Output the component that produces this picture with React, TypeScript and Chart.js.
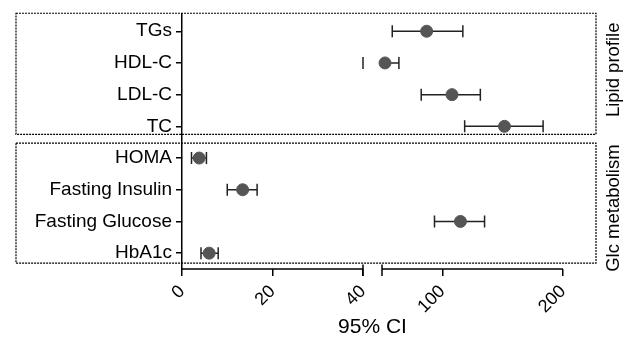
import React, { useEffect, useRef } from 'react';
import { Chart, registerables } from 'chart.js';
Chart.register(...registerables);

const categories = ['TGs', 'HDL-C', 'LDL-C', 'TC', 'HOMA', 'Fasting Insulin', 'Fasting Glucose', 'HbA1c'];
const groupNames = ['Lipid profile', 'Glc metabolism'];
const groupFirst = [0, 4];
const groupLast = [3, 7];
const estimates = [87, 52.5, 108, 151.5, 3.8, 13.4, 115, 6.0];
const lowerCI = [58.5, 40, 82.5, 118.5, 2.1, 10.0, 93.5, 4.2];
const upperCI = [117, 64, 131.5, 183.5, 5.4, 16.6, 135, 8.0];
const xTickValues = [0, 20, 40, 100, 200];
const xTitle = '95% CI';
const breakStart = 40;
const breakEnd = 50;
const axisMax = 200;

const FONT = 'Arial, "Liberation Sans", Helvetica, sans-serif';
const GAP = 4.2;
const RIGHT_LEN = 40;
function tx(v: number): number {
  if (v <= breakStart) return v;
  if (v >= breakEnd) return breakStart + GAP + ((v - breakEnd) * RIGHT_LEN) / (axisMax - breakEnd);
  return breakStart + ((v - breakStart) / (breakEnd - breakStart)) * GAP;
}

const whiskerColor = '#222222';
const pointColor = '#555555';

const decorPlugin = {
  id: 'decor',
  afterDraw(chart: any) {
    const { ctx, chartArea, scales } = chart;
    const x = scales.x;
    const y = scales.y;
    ctx.save();
    // broken x axis
    const ay = chartArea.bottom;
    ctx.strokeStyle = '#000';
    ctx.lineWidth = 1.5;
    ctx.beginPath();
    ctx.moveTo(x.getPixelForValue(tx(0)), ay);
    ctx.lineTo(x.getPixelForValue(tx(breakStart)), ay);
    ctx.moveTo(x.getPixelForValue(tx(breakEnd)), ay);
    ctx.lineTo(x.getPixelForValue(tx(axisMax)), ay);
    ctx.stroke();
    ctx.beginPath();
    [breakStart, breakEnd].forEach((b) => {
      const px = x.getPixelForValue(tx(b));
      ctx.moveTo(px, ay - 4.5);
      ctx.lineTo(px, ay + 7);
    });
    ctx.stroke();
    // group boxes
    ctx.setLineDash([2, 1]);
    ctx.lineWidth = 1.2;
    const left = 16;
    const right = chartArea.right + 33;
    groupNames.forEach((name, g) => {
      const top = y.getPixelForValue(groupFirst[g]) - (g === 0 ? 18 : 15);
      const bottom = y.getPixelForValue(groupLast[g]) + (g === 0 ? 8 : 10);
      ctx.strokeRect(left, top, right - left, bottom - top);
      ctx.save();
      ctx.setLineDash([]);
      ctx.translate(614, (top + bottom) / 2 + (g === 0 ? -4 : 5));
      ctx.rotate(-Math.PI / 2);
      ctx.fillStyle = '#000';
      ctx.font = `18.5px ${FONT}`;
      ctx.textAlign = 'center';
      ctx.textBaseline = 'middle';
      ctx.fillText(name, 0, 0);
      ctx.restore();
    });
    ctx.restore();
  },
};

export default function App() {
  const ref = useRef<HTMLCanvasElement>(null);
  useEffect(() => {
    if (!ref.current) return;
    const gapStartT = tx(breakStart);
    const gapEndT = tx(breakEnd);
    const whiskers = categories.map((c, i) => {
      const lo = lowerCI[i];
      const hi = upperCI[i];
      const crosses = lo <= breakStart && hi >= breakEnd;
      const data = crosses
        ? [{ x: tx(lo), y: i }, { x: tx(breakEnd), y: i }, { x: tx(hi), y: i }]
        : [{ x: tx(lo), y: i }, { x: tx(hi), y: i }];
      return {
        type: 'scatter' as const,
        label: c + ' CI',
        data,
        showLine: true,
        borderColor: whiskerColor,
        backgroundColor: whiskerColor,
        borderWidth: 1.5,
        pointStyle: 'line' as const,
        rotation: 90,
        pointRadius: crosses ? [6, 0, 6] : [6, 6],
        pointBorderWidth: 1.5,
        pointBorderColor: whiskerColor,
        segment: {
          borderColor: (sc: any) =>
            sc.p0.parsed.x <= gapStartT + 1e-6 && sc.p1.parsed.x >= gapEndT - 1e-6 ? 'rgba(0,0,0,0)' : whiskerColor,
        },
        order: 1,
      };
    });
    const points = {
      type: 'scatter' as const,
      label: 'Estimate',
      data: categories.map((c, i) => ({ x: tx(estimates[i]), y: i })),
      pointRadius: 6,
      pointBackgroundColor: pointColor,
      pointBorderColor: pointColor,
      pointBorderWidth: 1,
      order: 0,
    };
    const chart = new Chart(ref.current, {
      type: 'scatter',
      data: { datasets: [...whiskers, points] as any },
      options: {
        animation: false,
        responsive: false,
        maintainAspectRatio: false,
        events: [],
        layout: { padding: { left: 0, top: 10, right: 67, bottom: 0 } },
        plugins: { legend: { display: false }, tooltip: { enabled: false } },
        scales: {
          x: {
            type: 'linear',
            min: 0,
            max: tx(axisMax),
            border: { display: false },
            grid: { display: true, drawOnChartArea: false, drawTicks: true, tickLength: 7, color: '#000', lineWidth: 1.5 },
            ticks: {
              minRotation: 45,
              maxRotation: 45,
              autoSkip: false,
              color: '#000',
              padding: 5,
              font: { family: FONT, size: 18 },
              callback: (_v: any, idx: number) => String(xTickValues[idx]),
            },
            afterBuildTicks: (s: any) => {
              s.ticks = xTickValues.map((v) => ({ value: tx(v) }));
            },
            afterFit: (s: any) => {
              s.height = 68;
            },
            title: {
              display: true,
              text: xTitle,
              color: '#000',
              font: { family: FONT, size: 21, lineHeight: 1 },
              padding: { top: 0, bottom: -1 },
            },
          },
          y: {
            type: 'linear',
            reverse: true,
            min: -0.56,
            max: 7.5,
            border: { display: true, color: '#000', width: 1.5 },
            grid: { display: true, drawOnChartArea: false, drawTicks: true, tickLength: 6, color: '#000', lineWidth: 1.5 },
            ticks: {
              autoSkip: false,
              color: '#000',
              padding: 4,
              font: { family: FONT, size: 19, lineHeight: 1 },
              callback: (v: any) => categories[Math.round(Number(v))] ?? '',
            },
            afterBuildTicks: (s: any) => {
              s.ticks = categories.map((_c, i) => ({ value: i }));
            },
            afterFit: (s: any) => {
              s.width = 182;
            },
          },
        },
      },
      plugins: [decorPlugin],
    });
    return () => chart.destroy();
  }, []);
  return (
    <div style={{ position: 'fixed', left: 0, top: 0, width: 630, height: 337, background: '#fff' }}>
      <canvas ref={ref} width={630} height={337} style={{ width: 630, height: 337 }} />
    </div>
  );
}
